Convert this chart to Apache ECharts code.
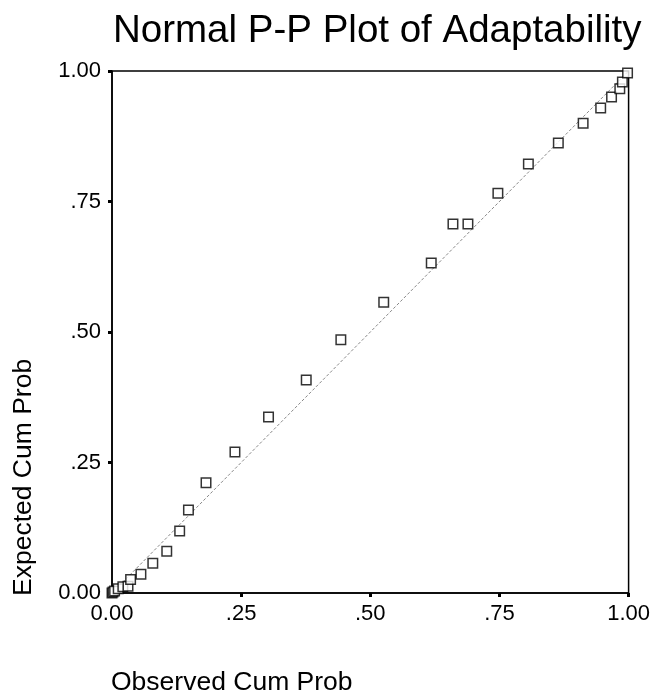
<!DOCTYPE html>
<html>
<head>
<meta charset="utf-8">
<script src="https://cdn.jsdelivr.net/npm/echarts@6/dist/echarts.min.js"></script>
<style>
  html, body { margin: 0; padding: 0; background: #fff; }
  #chart { width: 653px; height: 699px; }
</style>
</head>
<body>
<div id="chart"></div>
<script>
// observed vs expected cumulative probabilities
const observed = [0.000, 0.002, 0.005, 0.012, 0.021, 0.031, 0.036, 0.056, 0.079, 0.106, 0.131, 0.148,
  0.182, 0.238, 0.303, 0.376, 0.443, 0.526, 0.618, 0.660, 0.689, 0.747, 0.806, 0.864,
  0.912, 0.946, 0.967, 0.983, 0.988, 0.998]
const expected = [0.000, 0.002, 0.004, 0.008, 0.012, 0.013, 0.026, 0.036, 0.057, 0.080, 0.119, 0.159,
  0.211, 0.270, 0.337, 0.408, 0.485, 0.557, 0.632, 0.707, 0.707, 0.766, 0.822, 0.862,
  0.900, 0.929, 0.950, 0.966, 0.979, 0.996]
const refLineX = [0, 1]
const refLineY = [0, 1]
const tickLabels = ['0.00', '.25', '.50', '.75', '1.00']

const font = 'Liberation Sans, Arial, sans-serif'
const chart = echarts.init(document.getElementById('chart'))

function tickText (v) {
  return tickLabels[Math.round(v * 4)]
}

const option = {
  backgroundColor: '#fff',
  animation: false,
  title: {
    text: 'Normal P-P Plot of Adaptability',
    left: 108,
    top: 7,
    textStyle: { fontFamily: font, fontSize: 38.5, fontWeight: 'normal', color: '#000' }
  },
  grid: {
    left: 112,
    right: 21,
    top: 71,
    bottom: 106,
    show: true,
    borderColor: '#000',
    borderWidth: 1.5
  },
  xAxis: {
    type: 'value',
    min: 0,
    max: 1,
    interval: 0.25,
    splitLine: { show: false },
    axisLine: { show: true, lineStyle: { color: '#000', width: 1.5 } },
    axisTick: { show: true, length: 4, lineStyle: { color: '#000', width: 3 } },
    axisLabel: { margin: 10, fontFamily: font, fontSize: 22, color: '#000', formatter: tickText }
  },
  yAxis: {
    type: 'value',
    min: 0,
    max: 1,
    interval: 0.25,
    splitLine: { show: false },
    axisLine: { show: true, lineStyle: { color: '#000', width: 1.5 } },
    axisTick: { show: true, length: 4, lineStyle: { color: '#000', width: 3 } },
    axisLabel: { margin: 11, fontFamily: font, fontSize: 22, color: '#000', formatter: tickText }
  },
  graphic: [
    {
      type: 'text',
      x: 111,
      y: 683,
      style: { text: 'Observed Cum Prob', font: '26.5px ' + font, fill: '#000', textAlign: 'left', textVerticalAlign: 'middle' }
    },
    {
      type: 'text',
      x: 24,
      y: 596,
      rotation: Math.PI / 2,
      style: { text: 'Expected Cum Prob', font: '26.5px ' + font, fill: '#000', textAlign: 'left', textVerticalAlign: 'middle' }
    }
  ],
  series: [
    {
      type: 'line',
      data: refLineX.map((x, i) => [x, refLineY[i]]),
      symbol: 'none',
      lineStyle: { color: '#888', width: 1, type: [3, 2] },
      z: 1
    },
    {
      type: 'scatter',
      data: observed.map((x, i) => [x, expected[i]]),
      symbol: 'rect',
      symbolSize: 9.5,
      itemStyle: { color: '#fff', borderColor: '#000', borderWidth: 1.5 },
      z: 3
    }
  ]
}

chart.setOption(option)
</script>
</body>
</html>
